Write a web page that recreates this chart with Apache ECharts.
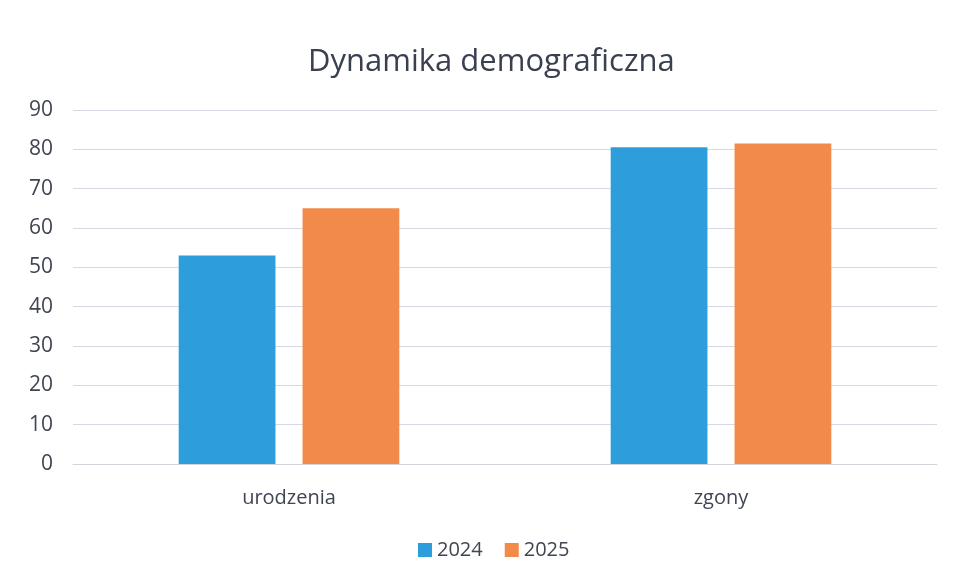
<!DOCTYPE html>
<html>
<head>
<meta charset="utf-8">
<script src="https://cdn.jsdelivr.net/npm/echarts@6/dist/echarts.min.js"></script>
<style>
  html, body { margin: 0; padding: 0; background: #fff; }
  #chart { width: 955px; height: 578px; }
</style>
</head>
<body>
<div id="chart"></div>
<script>
var categories = ['urodzenia', 'zgony'];
var seriesNames = ['2024', '2025'];
var values2024 = [53, 80.5];
var values2025 = [65, 81.5];

var myChart = echarts.init(document.getElementById('chart'));
var font = '"Open Sans", "Noto Sans", sans-serif';
var option = {
  backgroundColor: '#ffffff',
  color: ['#2e9ddc', '#f28a4a'],
  title: {
    text: 'Dynamika demograficzna',
    left: 303,
    top: 42,
    textStyle: { fontFamily: font, fontSize: 31, fontWeight: 'normal', color: '#3a4050' }
  },
  legend: {
    data: seriesNames,
    bottom: 13,
    left: 413,
    itemWidth: 14,
    itemHeight: 14,
    itemGap: 22,
    icon: 'rect',
    textStyle: { fontFamily: font, fontSize: 20, color: '#404552' }
  },
  grid: { left: 73, right: 18, top: 110, bottom: 114 },
  xAxis: {
    type: 'category',
    data: categories,
    axisLine: { lineStyle: { color: '#d4d4dc' } },
    axisTick: { show: false },
    axisLabel: { fontFamily: font, fontSize: 20, color: '#404552', margin: 24 }
  },
  yAxis: {
    type: 'value',
    min: 0,
    max: 90,
    interval: 10,
    axisLine: { show: false },
    axisTick: { show: false },
    axisLabel: { fontFamily: font, fontSize: 21, color: '#404552', margin: 20 },
    splitLine: { lineStyle: { color: '#d8d8e2' } }
  },
  series: [
    { name: '2024', type: 'bar', data: values2024, barWidth: '22.4%', barGap: '28%' },
    { name: '2025', type: 'bar', data: values2025, barWidth: '22.4%', barGap: '28%' }
  ]
};
myChart.setOption(option);
</script>
</body>
</html>
